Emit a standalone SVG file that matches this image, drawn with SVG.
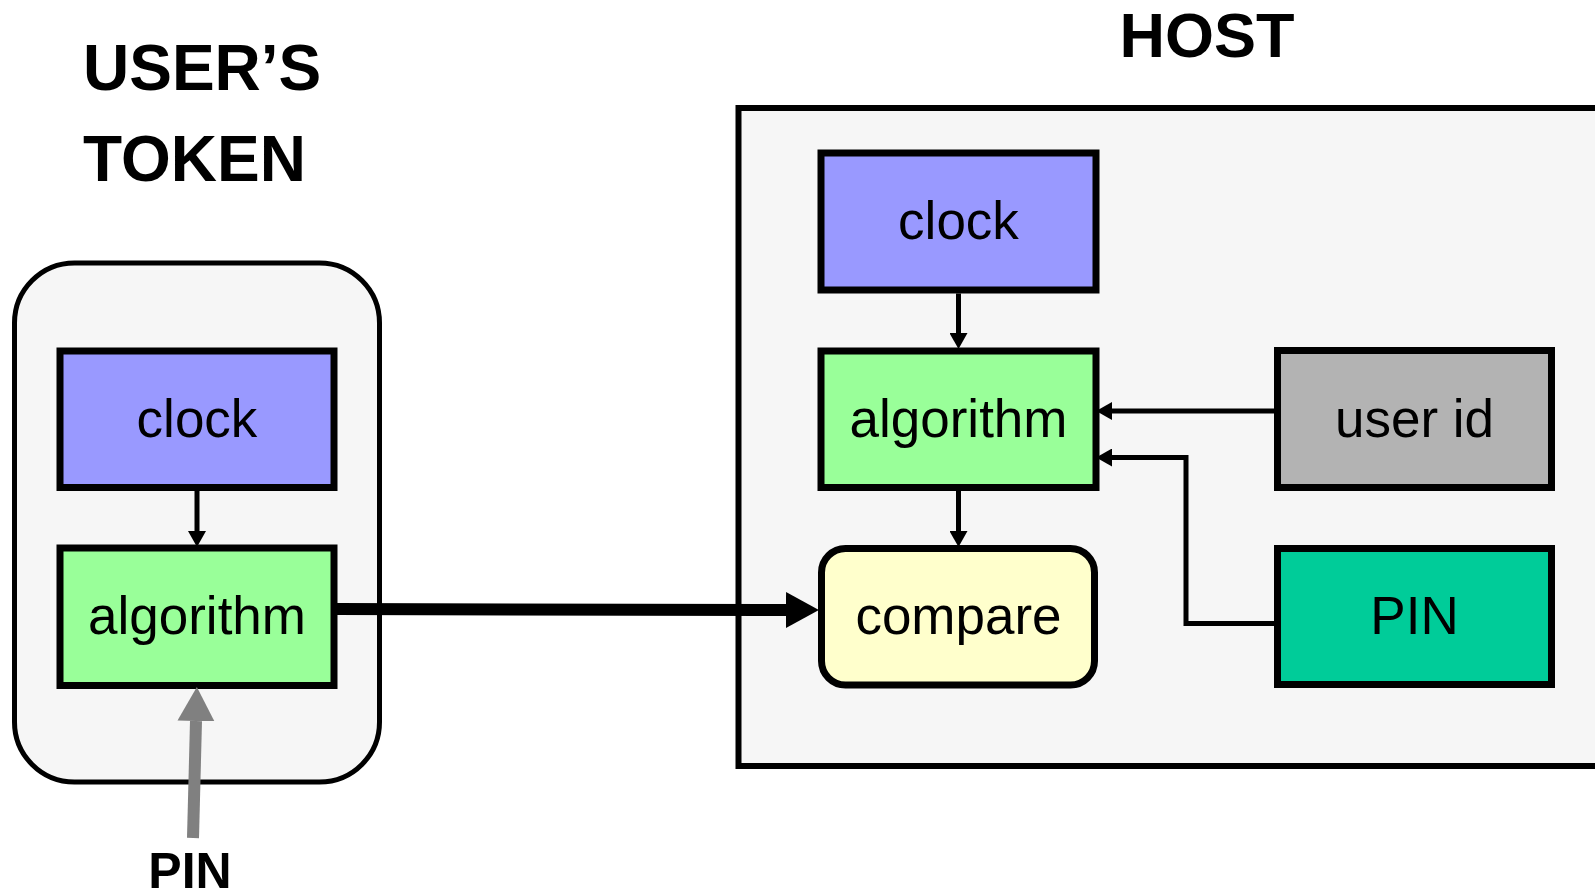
<svg xmlns="http://www.w3.org/2000/svg" width="1595" height="892" viewBox="0 0 1595 892">
<style>
.box{stroke:#000;stroke-width:7}
.lbl{font-family:"Liberation Sans",Arial,sans-serif;font-size:53px;fill:#000;text-anchor:middle}
.title{font-family:"Liberation Sans",Arial,sans-serif;font-size:64px;font-weight:bold;fill:#000}
.thin{fill:none;stroke:#000;stroke-width:5}
</style>
<defs>
<marker id="ah" markerUnits="userSpaceOnUse" markerWidth="16" markerHeight="18" viewBox="0 0 15 17" refX="0" refY="8.5" orient="auto">
<path d="M0,0 L15,8.5 L0,17 Z" fill="#000"/>
</marker>
<marker id="ahBig" markerUnits="userSpaceOnUse" markerWidth="33" markerHeight="36" viewBox="0 0 32 35" refX="0" refY="17.5" orient="auto">
<path d="M0,0 L32,17.5 L0,35 Z" fill="#000"/>
</marker>
<marker id="ahGray" markerUnits="userSpaceOnUse" markerWidth="34" markerHeight="37" viewBox="0 0 33 36" refX="0" refY="18" orient="auto">
<path d="M0,0 L33,18 L0,36 Z" fill="#808080"/>
</marker>
</defs>

<g id="title-token">
<text class="title" x="83" y="90">USER’S</text>
<text class="title" x="83" y="181">TOKEN</text>
</g>
<g id="title-host">
<text class="title" x="1207" y="57" text-anchor="middle" style="font-size:63px">HOST</text>
</g>

<g id="token-container">
<rect x="14.5" y="263" width="365" height="519" rx="60" ry="60" fill="#F6F6F6" stroke="#000" stroke-width="5"/>
</g>
<g id="host-container">
<rect x="738.5" y="108" width="862" height="658" fill="#F6F6F6" stroke="#000" stroke-width="6"/>
</g>

<g id="token-clock">
<rect class="box" x="60" y="351" width="274" height="136.5" fill="#9999FF"/>
<text class="lbl" x="197" y="437">clock</text>
</g>
<g id="token-algorithm">
<rect class="box" x="60" y="548" width="274" height="137.5" fill="#99FF99"/>
<text class="lbl" x="197" y="634">algorithm</text>
</g>

<g id="host-clock">
<rect class="box" x="821" y="153" width="275" height="137" fill="#9999FF"/>
<text class="lbl" x="958.5" y="239">clock</text>
</g>
<g id="host-algorithm">
<rect class="box" x="821" y="351" width="275" height="136.5" fill="#99FF99"/>
<text class="lbl" x="958.5" y="437">algorithm</text>
</g>
<g id="host-compare">
<rect class="box" x="821.5" y="548.5" width="273" height="136.5" rx="24" ry="24" fill="#FFFFCC"/>
<text class="lbl" x="958.5" y="634">compare</text>
</g>
<g id="host-userid">
<rect class="box" x="1277.5" y="350.5" width="274" height="137" fill="#B3B3B3"/>
<text class="lbl" x="1414.5" y="437">user id</text>
</g>
<g id="host-pin">
<rect class="box" x="1277.5" y="548.5" width="274" height="136" fill="#00CC99"/>
<text class="lbl" x="1414.5" y="634">PIN</text>
</g>

<g id="pin-label">
<text class="title" x="190" y="888" text-anchor="middle" style="font-size:50px">PIN</text>
</g>

<g id="connectors">
<line class="thin" x1="197" y1="491" x2="197" y2="531" marker-end="url(#ah)"/>
<line class="thin" x1="958.5" y1="293.5" x2="958.5" y2="333" marker-end="url(#ah)"/>
<line class="thin" x1="958.5" y1="491" x2="958.5" y2="531" marker-end="url(#ah)"/>
<line class="thin" x1="1274" y1="411" x2="1112" y2="411" marker-end="url(#ah)"/>
<polyline class="thin" points="1274,623.5 1186,623.5 1186,457.5 1112,457.5" marker-end="url(#ah)"/>
<line x1="337" y1="609" x2="786" y2="610" stroke="#000" stroke-width="12" marker-end="url(#ahBig)"/>
<line x1="193" y1="838" x2="196" y2="721" stroke="#808080" stroke-width="12" marker-end="url(#ahGray)"/>
</g>
</svg>
